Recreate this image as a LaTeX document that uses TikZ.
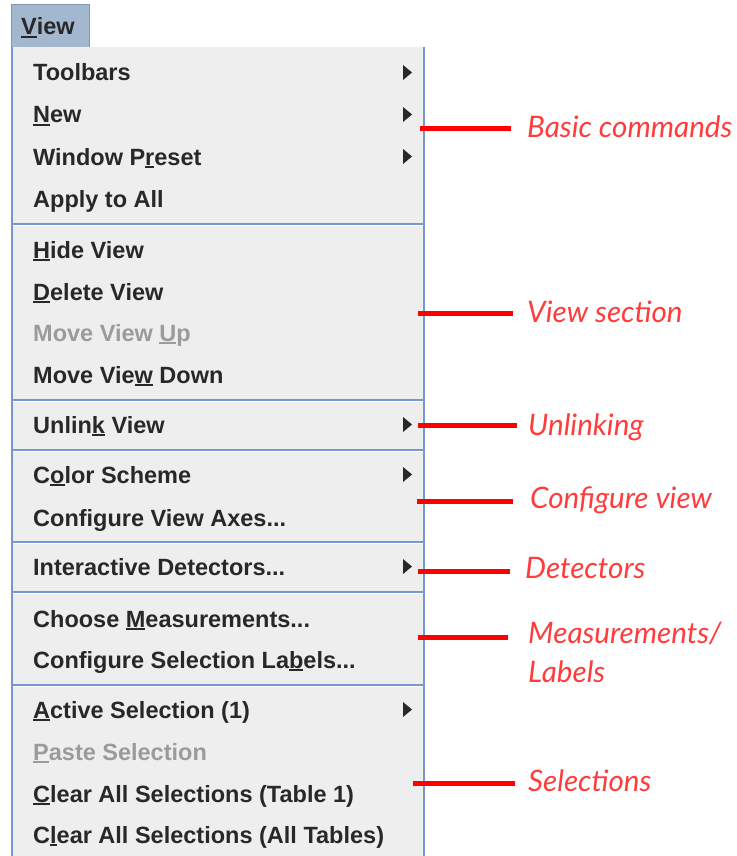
\documentclass[tikz,border=0pt]{standalone}
\usepackage{fontspec}
\setmainfont{Liberation Sans}
\newfontfamily\notefont{Lato}
\definecolor{menufill}{RGB}{238,238,238}
\definecolor{menuline}{RGB}{122,150,208}
\definecolor{headfill}{RGB}{163,184,206}
\definecolor{headline}{RGB}{130,150,175}
\definecolor{itemtext}{RGB}{40,40,40}
\definecolor{greytext}{RGB}{155,155,155}
\definecolor{notered}{RGB}{255,60,60}
\definecolor{barred}{RGB}{255,0,0}
\newcommand\mnem[1]{\setbox0\hbox{#1}\rlap{\rule[-3pt]{\wd0}{1.6pt}}\box0\relax}
\begin{document}
\begin{tikzpicture}[x=1pt,y=-1pt,
  item/.style={anchor=base west, inner sep=0pt, font=\fontsize{23.5}{24}\selectfont\bfseries, text=itemtext},
  off/.style={item, text=greytext},
  note/.style={anchor=base west, inner sep=0pt, font=\notefont\itshape\fontsize{29.6}{39}\selectfont, text=notered, align=left},
  bar/.style={line width=5pt, barred},
  subarrow/.style={fill=itemtext},
  sepline/.style={menuline, line width=1.5pt},
  sephi/.style={white, line width=1pt}]
\useasboundingbox (0,0) rectangle (736,856);
% header
\node[draw=headline, fill=headfill, minimum width=78pt, minimum height=43pt, anchor=north west, inner sep=0pt] (hdr) at (11,4) {};
\node[item] (hv) at (21,35) {\mnem{V}iew};
% menu panel
\fill[menufill] (12,47) rectangle (424,856);
\draw[sepline] (12,47) -- (12,856);
\draw[sepline] (424,47) -- (424,856);
\foreach \y in {224,400,450,542,592,685} {
  \draw[sepline] (12,\y) -- (424,\y);
  \draw[sephi] (13,{\y+1.6}) -- (423,{\y+1.6});
}
% items
\node[item] (i1) at (33,81) {Toolbars};
\node[item] (i2) at (33,123) {\mnem{N}ew};
\node[item] (i3) at (33,165) {Window P\mnem{r}eset};
\node[item] (i4) at (33,207) {Apply to All};
\node[item] (i5) at (33,258) {\mnem{H}ide View};
\node[item] (i6) at (33,300) {\mnem{D}elete View};
\node[off]  (i7) at (33,341) {Move View \mnem{U}p};
\node[item] (i8) at (33,383) {Move Vie\mnem{w} Down};
\node[item] (i9) at (33,433) {Unlin\mnem{k} View};
\node[item] (i10) at (33,483) {C\mnem{o}lor Scheme};
\node[item] (i11) at (33,526) {Configure View Axes...};
\node[item] (i12) at (33,575) {Interactive Detectors...};
\node[item] (i13) at (33,627) {Choose \mnem{M}easurements...};
\node[item] (i14) at (33,668) {Configure Selection La\mnem{b}els...};
\node[item] (i15) at (33,718) {\mnem{A}ctive Selection (1)};
\node[off]  (i16) at (33,760) {\mnem{P}aste Selection};
\node[item] (i17) at (33,802) {\mnem{C}lear All Selections (Table 1)};
\node[item] (i18) at (33,843) {C\mnem{l}ear All Selections (All Tables)};
% submenu arrows
\foreach \b in {81,123,165,433,483,575,718} {
  \fill[subarrow] (403,{\b-16}) -- (412,{\b-8.5}) -- (403,{\b-1}) -- cycle;
}
% annotations
\node[note] (n1) at (527,137) {Basic commands};
\node[note] (n2) at (527,322) {View section};
\node[note] (n3) at (528,435) {Unlinking};
\node[note] (n4) at (530,508) {Configure view};
\node[note] (n5) at (525,578) {Detectors};
\node[note] (n6) at (528,682) {Measurements/\\Labels};
\node[note] (n7) at (528,791) {Selections};
\coordinate (c1) at (420,129);
\coordinate (c2) at (418,313);
\coordinate (c3) at (418,425);
\coordinate (c4) at (417,501);
\coordinate (c5) at (418,571);
\coordinate (c6) at (418,637);
\coordinate (c7) at (413,783);
\draw[bar] (c1) -- (c1 -| 511,0);
\draw[bar] (c2) -- (c2 -| 513,0);
\draw[bar] (c3) -- (c3 -| 517,0);
\draw[bar] (c4) -- (c4 -| 513,0);
\draw[bar] (c5) -- (c5 -| 510,0);
\draw[bar] (c6) -- (c6 -| 508,0);
\draw[bar] (c7) -- (c7 -| 515,0);
\end{tikzpicture}
\end{document}
